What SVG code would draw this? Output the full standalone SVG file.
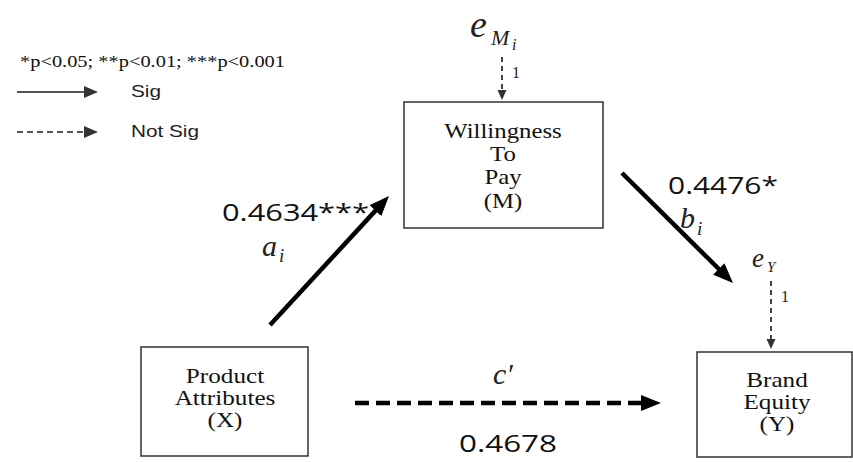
<svg xmlns="http://www.w3.org/2000/svg" width="853" height="462" viewBox="0 0 853 462">
<style>
.box{fill:#fff;stroke:#333;stroke-width:1.5}
.nt{font-family:"Liberation Serif",serif;font-size:20px;fill:#111;text-anchor:middle}
.coef{font-family:"Open Sans","Liberation Sans",sans-serif;font-size:24px;fill:#111}
.it{font-family:"Liberation Serif",serif;font-style:italic;fill:#222}
.leg{font-family:"Liberation Sans",sans-serif;font-size:17px;fill:#222}
.one{font-family:"Liberation Serif",serif;font-size:16px;fill:#222}
.thick{stroke:#000;stroke-width:4.5;fill:none}
.err{stroke:#444;stroke-width:2;stroke-dasharray:5 4;fill:none}
</style>
<defs>
<marker id="big" viewBox="0 0 20 16" refX="10" refY="8" markerWidth="20" markerHeight="16" markerUnits="userSpaceOnUse" orient="auto">
<path d="M0,0 L20,8 L0,16 z" fill="#000"/>
</marker>
<marker id="small" viewBox="0 0 10 10" refX="5" refY="5" markerWidth="10" markerHeight="10" markerUnits="userSpaceOnUse" orient="auto">
<path d="M0,0.5 L10,5 L0,9.5 z" fill="#333"/>
</marker>
<marker id="leg" viewBox="0 0 14 12" refX="4" refY="6" markerWidth="14" markerHeight="12" markerUnits="userSpaceOnUse" orient="auto">
<path d="M0,0 L14,6 L0,12 z" fill="#333"/>
</marker>
</defs>

<g id="legend">
<text x="20" y="67" font-family="Liberation Serif,serif" font-size="17" fill="#111" textLength="265" lengthAdjust="spacingAndGlyphs">*p&lt;0.05; **p&lt;0.01; ***p&lt;0.001</text>
<line x1="17" y1="92" x2="88" y2="92" stroke="#555" stroke-width="2" marker-end="url(#leg)"/>
<text class="leg" x="131" y="97" textLength="30" lengthAdjust="spacingAndGlyphs">Sig</text>
<line x1="17" y1="132" x2="88" y2="132" stroke="#555" stroke-width="2" stroke-dasharray="6 4" marker-end="url(#leg)"/>
<text class="leg" x="131" y="137" textLength="68" lengthAdjust="spacingAndGlyphs">Not Sig</text>
</g>

<g id="connectors">
<line class="thick" x1="270" y1="325" x2="382.2" y2="203.4" marker-end="url(#big)"/>
<line class="thick" x1="622" y1="173" x2="725.9" y2="276" marker-end="url(#big)"/>
<line class="thick" x1="355" y1="403" x2="651" y2="403" stroke-dasharray="14 7" marker-end="url(#big)"/>
<line class="err" x1="502" y1="57" x2="502" y2="95" marker-end="url(#small)"/>
<line class="err" x1="771" y1="281" x2="771" y2="344" marker-end="url(#small)"/>
</g>

<g id="errM">
<text class="it" x="470" y="37" font-size="38">e</text>
<text class="it" x="491" y="45" font-size="22">M</text>
<text class="it" x="512" y="50" font-size="16">i</text>
<text class="one" x="512" y="78">1</text>
</g>

<g id="errY">
<text class="it" x="752" y="267" font-size="27">e</text>
<text class="it" x="767" y="272" font-size="15">Y</text>
<text class="one" x="781" y="302">1</text>
</g>

<g id="nodeM">
<rect class="box" x="404" y="102" width="199" height="126"/>
<g transform="translate(503,0) scale(1.24,1)">
<text class="nt" x="0" y="138" font-size="21">Willingness</text>
<text class="nt" x="0" y="161" font-size="21">To</text>
<text class="nt" x="0" y="184" font-size="21">Pay</text>
<text class="nt" x="0" y="208" font-size="21">(M)</text>
</g>
</g>

<g id="nodeX">
<rect class="box" x="141" y="347" width="167" height="109"/>
<g transform="translate(225,0) scale(1.26,1)">
<text class="nt" x="0" y="383">Product</text>
<text class="nt" x="0" y="405">Attributes</text>
<text class="nt" x="0" y="427">(X)</text>
</g>
</g>

<g id="nodeY">
<rect class="box" x="697" y="352" width="155" height="105"/>
<g transform="translate(777,0) scale(1.26,1)">
<text class="nt" x="0" y="387">Brand</text>
<text class="nt" x="0" y="409">Equity</text>
<text class="nt" x="0" y="431">(Y)</text>
</g>
</g>

<g id="labels">
<text class="coef" x="222" y="221" textLength="147" lengthAdjust="spacingAndGlyphs">0.4634***</text>
<text class="it" x="262" y="256" font-size="30">a</text>
<text class="it" x="279" y="262" font-size="19">i</text>
<text class="coef" x="668" y="194" textLength="110" lengthAdjust="spacingAndGlyphs">0.4476*</text>
<text class="it" x="680" y="228" font-size="30">b</text>
<text class="it" x="697" y="235" font-size="19">i</text>
<text class="it" x="493" y="384" font-size="30">c′</text>
<text class="coef" x="459" y="452" textLength="98" lengthAdjust="spacingAndGlyphs">0.4678</text>
</g>
</svg>
